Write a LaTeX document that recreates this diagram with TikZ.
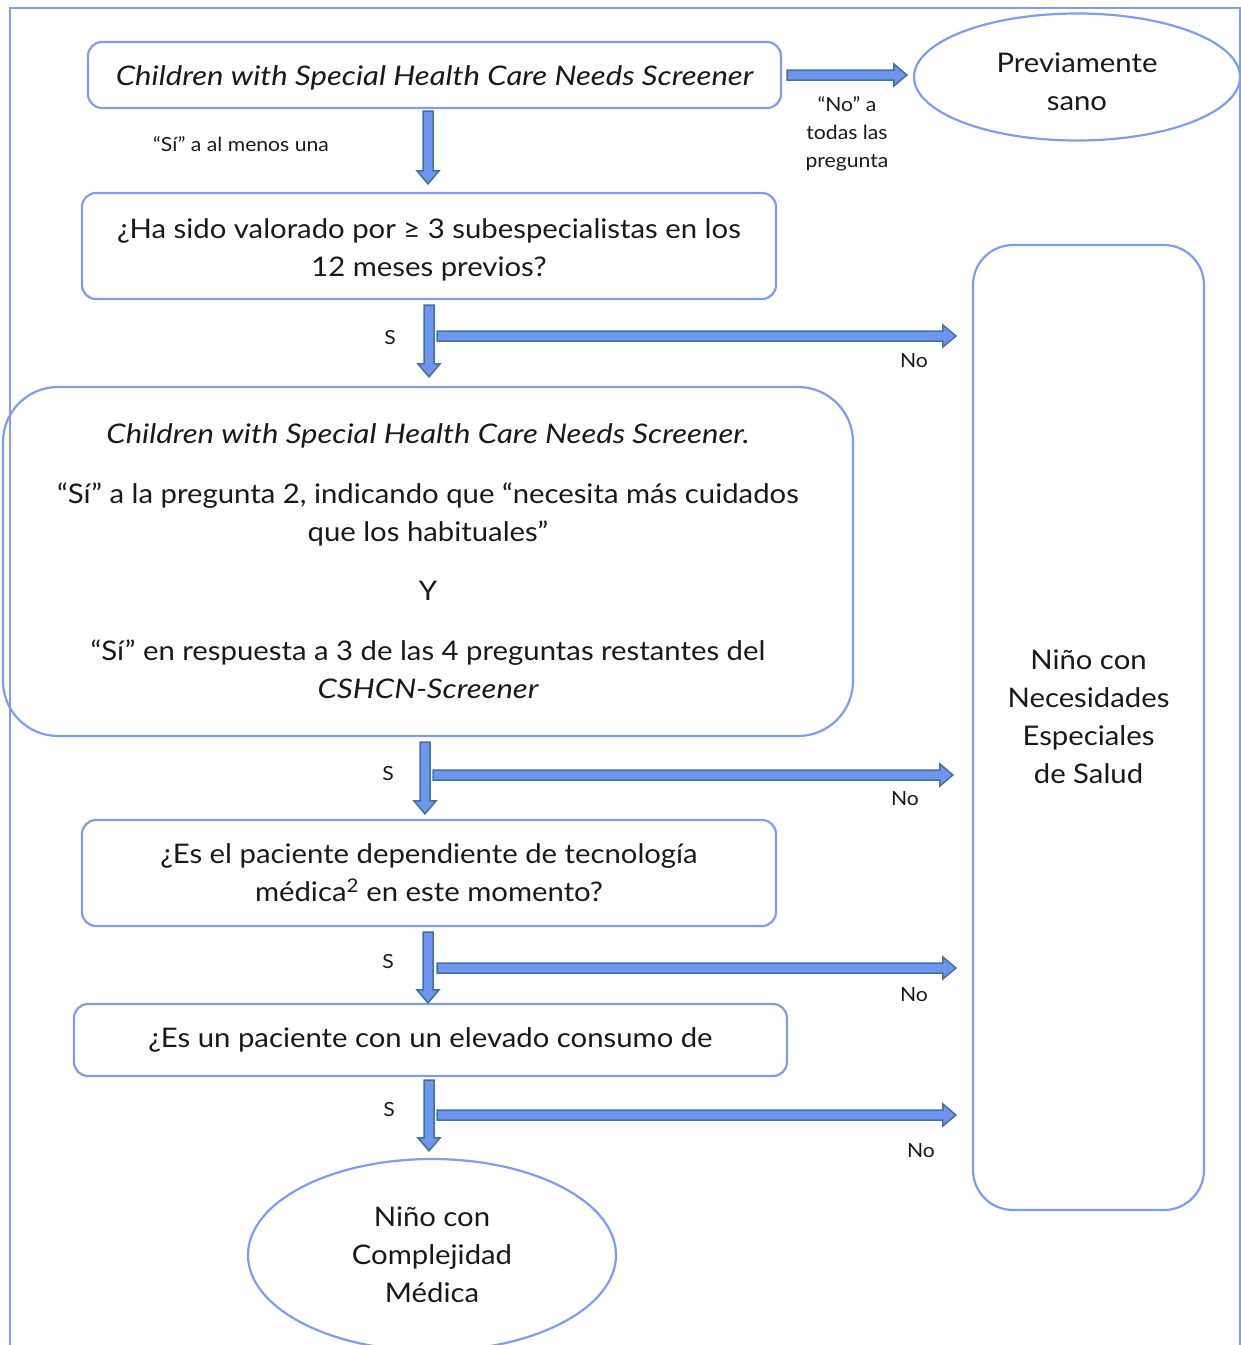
\documentclass[tikz,border=0pt]{standalone}
\usepackage{fontspec}
\setmainfont{Lato}[FakeStretch=1.085, ItalicFeatures={FakeStretch=1.15}]
\usetikzlibrary{calc,shapes.geometric}
\definecolor{bord}{RGB}{125,157,245}
\definecolor{afill}{RGB}{110,150,238}
\definecolor{aline}{RGB}{65,113,156}
\definecolor{txt}{RGB}{25,25,25}
\begin{document}
\begin{tikzpicture}[x=1pt,y=-1pt,
  box/.style={draw=bord, line width=2.2pt, rounded corners=14pt, align=center, inner sep=0pt, text=txt, font=\fontsize{27}{38}\selectfont},
  oval/.style={draw=bord, line width=2.2pt, ellipse, align=center, inner sep=0pt, text=txt, font=\fontsize{27}{38}\selectfont},
  bigtxt/.style={align=center, inner sep=0pt, text=txt, font=\fontsize{27}{38}\selectfont},
  small/.style={align=center, inner sep=0pt, text=txt, font=\fontsize{19.5}{28}\selectfont},
  blockarrow/.style={draw=aline, fill=afill, line width=1.5pt, line join=miter,
    to path={let \p1=(\tikztostart), \p2=(\tikztotarget),
      \n1={atan2((\y2)-(\y1),(\x2)-(\x1))}, \n2={veclen((\x2)-(\x1),(\y2)-(\y1))} in
      {[shift={(\p1)}, rotate=\n1] (0,5) -- ({\n2-13},5) -- ({\n2-13},11) -- ({\n2},0) -- ({\n2-13},-11) -- ({\n2-13},-5) -- (0,-5) -- cycle}}}
]
\useasboundingbox (0,0) rectangle (1241,1345);
% frame
\draw[bord, line width=2pt] (10,1360) -- (10,8) -- (1240,8) -- (1240,1360);

% nodes
\node[box, minimum width=693pt, minimum height=66pt] (b1) at (434.5,75) {};
\node[bigtxt] (b1txt) at (434.5,78) {\itshape Children with Special Health Care Needs Screener};
\node[oval, minimum width=326pt, minimum height=127pt] (ptop) at (1077,77) {};
\node[bigtxt] (ptoptxt) at (1077,82) {Previamente\\sano};
\node[box, minimum width=694pt, minimum height=106pt] (b2) at (429,246) {};
\node[bigtxt] (b2txt) at (429,250) {¿Ha sido valorado por ≥ 3 subespecialistas en los\\12 meses previos?};
\node[box, rounded corners=55pt, minimum width=850pt, minimum height=349pt] (b3) at (428,561.5) {{\itshape Children with Special Health Care Needs Screener.}\\[22pt]“Sí” a la pregunta 2, indicando que “necesita más cuidados\\que los habituales”\\[21pt]Y\\[22pt]“Sí” en respuesta a 3 de las 4 preguntas restantes del\\{\itshape CSHCN-Screener}};
\node[box, minimum width=694pt, minimum height=106pt] (b4) at (429,873) {¿Es el paciente dependiente de tecnología\\médica\textsuperscript{2} en este momento?};
\node[box, minimum width=713pt, minimum height=72pt] (b5) at (430.5,1040) {¿Es un paciente con un elevado consumo de};
\node[oval, minimum width=368pt, minimum height=192pt] (pbot) at (432,1255) {Niño con\\Complejidad\\Médica};
\node[box, rounded corners=40pt, minimum width=231pt, minimum height=965pt] (nes) at (1088.5,727.5) {};
\node[bigtxt] (nestxt) at (1088.5,717) {Niño con\\Necesidades\\Especiales\\de Salud};

% labels
\node[small] (lsi) at (241,144) {“Sí” a al menos una};
\node[small] (lno) at (847,134) {“No” a\\todas las\\pregunta};
\node[small] (s2) at (390,338) {S};
\node[small] (s3) at (388,774) {S};
\node[small] (s4) at (388,962) {S};
\node[small] (s5) at (389,1109) {S};
\node[small] (n2) at (914,361) {No};
\node[small] (n3) at (905,799) {No};
\node[small] (n4) at (914,995) {No};
\node[small] (n5) at (921,1151) {No};

% arrows
\path[blockarrow] ($(b1.east)+(5,0)$) to ($(b1.east -| ptop.west)+(-6,0)$);
\path[blockarrow] ($(b1.south)+(-6.5,2)$) to ($(b2.north)+(-1,-8)$);
\path[blockarrow] ($(b2.south)+(0,5)$) to ($(b3.north)+(1,-9)$);
\path[blockarrow] ($(b3.south)+(-3,5)$) to ($(b4.north)+(-4,-5)$);
\path[blockarrow] ($(b4.south)+(-1,5)$) to ($(b5.north)+(-2.5,0)$);
\path[blockarrow] ($(b5.south)+(-1.5,3)$) to ($(pbot.north)+(-3,-7)$);
% No arrows
\path[blockarrow] (437,336) to ($(nes.west |- 0,336)+(-16,0)$);
\path[blockarrow] (433,775) to ($(nes.west |- 0,775)+(-19,0)$);
\path[blockarrow] (437,968) to ($(nes.west |- 0,968)+(-16,0)$);
\path[blockarrow] (437,1115) to ($(nes.west |- 0,1115)+(-16,0)$);
\end{tikzpicture}
\end{document}
